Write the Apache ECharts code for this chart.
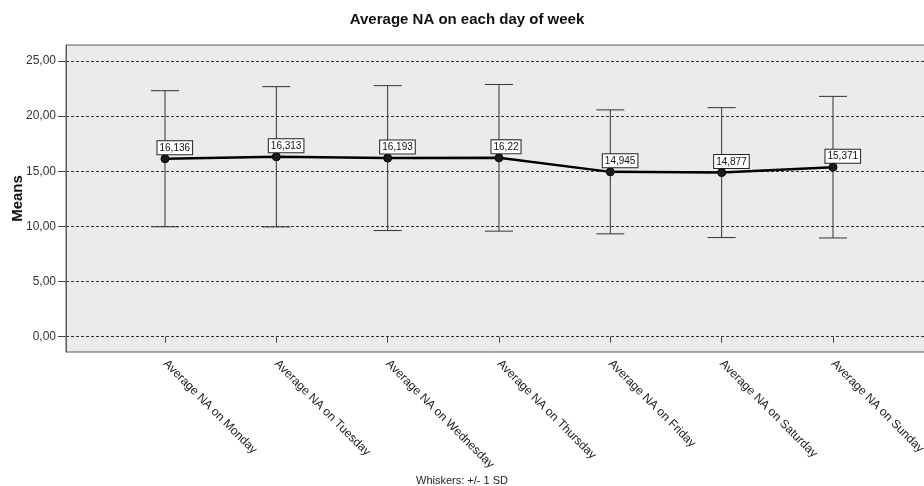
<!DOCTYPE html>
<html>
<head>
<meta charset="utf-8">
<script src="https://cdn.jsdelivr.net/npm/echarts@6/dist/echarts.min.js"></script>
<style>
  html, body { margin: 0; padding: 0; background: #fff; }
  #chart { width: 924px; height: 486px; }
</style>
</head>
<body>
<div id="chart"></div>
<script>
// Mean NA score per weekday with +/- 1 SD whiskers
const categories = [
  'Average NA on Monday', 'Average NA on Tuesday', 'Average NA on Wednesday',
  'Average NA on Thursday', 'Average NA on Friday', 'Average NA on Saturday',
  'Average NA on Sunday'
];
const meanLabels = ['16,136', '16,313', '16,193', '16,22', '14,945', '14,877', '15,371'];
const means = [16.136, 16.313, 16.193, 16.22, 14.945, 14.877, 15.371];
const sds = [6.17, 6.36, 6.57, 6.65, 5.62, 5.89, 6.42];
const yTicks = [0, 5, 10, 15, 20, 25];

const FONT = 'Liberation Sans, Arial, sans-serif';
const Y_MIN = -1.39, Y_MAX = 26.45;

const whiskers = means.map((m, i) => [i, m - sds[i], m + sds[i]]);

const chart = echarts.init(document.getElementById('chart'), null, { renderer: 'canvas' });

const gridTop = 45, gridBottom = 134;

chart.setOption({
  animation: false,
  backgroundColor: '#ffffff',
  textStyle: { fontFamily: FONT },
  title: [
    {
      text: 'Average NA on each day of week',
      left: 467, top: 12, textAlign: 'center', padding: 0,
      textStyle: { fontFamily: FONT, fontSize: 15, fontWeight: 'bold', color: '#111' }
    },
    {
      text: 'Whiskers: +/- 1 SD',
      left: 462, top: 475, textAlign: 'center', padding: 0,
      textStyle: { fontFamily: FONT, fontSize: 11, fontWeight: 'normal', color: '#222' }
    }
  ],
  grid: [
    {
      left: 66, top: gridTop, bottom: gridBottom, width: 900,
      show: true, backgroundColor: '#ebebeb', borderColor: '#5a5a5a', borderWidth: 1,
      containLabel: false, outerBoundsMode: 'none'
    },
    {
      left: 109.33, top: gridTop, bottom: gridBottom, width: 779.33,
      show: false, containLabel: false, outerBoundsMode: 'none'
    }
  ],
  xAxis: [
    { type: 'value', gridIndex: 0, min: 0, max: 1, show: false },
    {
      type: 'category', gridIndex: 1, data: categories, boundaryGap: true,
      axisLine: { show: false },
      axisTick: { show: true, alignWithLabel: true, length: 6, lineStyle: { color: '#444', width: 1 } },
      axisLabel: {
        interval: 0, rotate: -45, margin: 10,
        fontFamily: FONT, fontSize: 12, color: '#222'
      },
      splitLine: { show: false }
    }
  ],
  yAxis: [
    {
      type: 'value', gridIndex: 0, min: Y_MIN, max: Y_MAX,
      name: 'Means', nameLocation: 'middle', nameGap: 41, nameRotate: 90,
      nameMoveOverlap: false,
      nameTextStyle: { fontFamily: FONT, fontSize: 15, fontWeight: 'bold', color: '#111' },
      axisLine: { show: true, lineStyle: { color: '#5a5a5a' } },
      axisTick: { show: true, length: 8, customValues: yTicks, lineStyle: { color: '#444' } },
      axisLabel: {
        customValues: yTicks, margin: 10,
        fontFamily: FONT, fontSize: 12, color: '#333',
        formatter: v => v.toFixed(2).replace('.', ',')
      },
      splitLine: { show: true, lineStyle: { color: '#333', type: [3, 2], width: 1 } }
    },
    { type: 'value', gridIndex: 1, min: Y_MIN, max: Y_MAX, show: false, splitLine: { show: false } }
  ],
  series: [
    {
      type: 'custom', xAxisIndex: 1, yAxisIndex: 1, z: 2,
      data: whiskers,
      renderItem: function (params, api) {
        const lo = api.coord([api.value(0), api.value(1)]);
        const hi = api.coord([api.value(0), api.value(2)]);
        const half = 14;
        const style = { stroke: '#333', lineWidth: 1 };
        return {
          type: 'group',
          children: [
            { type: 'line', shape: { x1: hi[0], y1: hi[1], x2: lo[0], y2: lo[1] }, style },
            { type: 'line', shape: { x1: hi[0] - half, y1: hi[1], x2: hi[0] + half, y2: hi[1] }, style },
            { type: 'line', shape: { x1: lo[0] - half, y1: lo[1], x2: lo[0] + half, y2: lo[1] }, style }
          ]
        };
      }
    },
    {
      type: 'line', xAxisIndex: 1, yAxisIndex: 1, z: 3,
      data: means,
      symbol: 'circle', symbolSize: 8,
      lineStyle: { color: '#000', width: 2.5 },
      itemStyle: { color: '#1a1a1a', borderColor: '#000', borderWidth: 1 },
      label: {
        show: true,
        position: [-3, 0],
        align: 'left', verticalAlign: 'bottom',
        formatter: p => meanLabels[p.dataIndex],
        fontFamily: FONT, fontSize: 10, color: '#111',
        backgroundColor: '#ffffff', borderColor: '#222', borderWidth: 1,
        padding: [2, 2, 1, 2]
      }
    }
  ]
});
</script>
</body>
</html>
